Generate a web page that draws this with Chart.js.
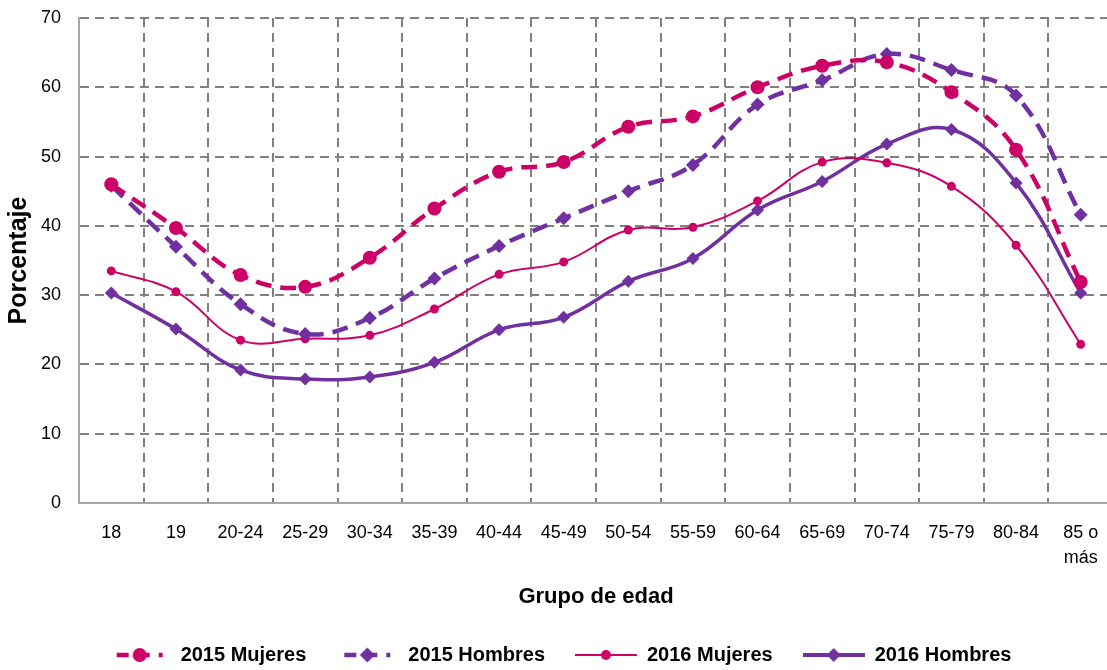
<!DOCTYPE html>
<html>
<head>
<meta charset="utf-8">
<script src="https://cdn.jsdelivr.net/npm/chart.js@4.4.1/dist/chart.umd.min.js"></script>
<style>
  html, body { margin: 0; padding: 0; background: #fff; overflow: hidden; }
  #wrap { width: 1107px; height: 670px; overflow: hidden; }
</style>
</head>
<body>
<div id="wrap"><canvas id="chart" width="1120" height="670"></canvas></div>
<script>
const grupos = ["18", "19", "20-24", "25-29", "30-34", "35-39", "40-44", "45-49",
  "50-54", "55-59", "60-64", "65-69", "70-74", "75-79", "80-84", ["85 o", "más"]];
const mujeres2015 = [46.0, 39.7, 32.9, 31.2, 35.4, 42.5, 47.8, 49.2, 54.3, 55.8, 60.0, 63.1, 63.6, 59.3, 51.0, 31.9];
const hombres2015 = [45.8, 37.0, 28.7, 24.4, 26.7, 32.4, 37.1, 41.1, 45.0, 48.8, 57.5, 61.0, 64.8, 62.5, 58.8, 41.6];
const mujeres2016 = [33.5, 30.5, 23.5, 23.7, 24.2, 28.0, 33.0, 34.8, 39.4, 39.8, 43.6, 49.2, 49.1, 45.7, 37.2, 22.9];
const hombres2016 = [30.3, 25.1, 19.2, 17.9, 18.2, 20.3, 25.0, 26.8, 32.0, 35.3, 42.3, 46.4, 51.8, 53.9, 46.2, 30.3];
const yMin = 0, yMax = 70, yStep = 10;

const MAGENTA = "#cc0066";
const PURPLE = "#7030a0";
const GRID = "#808080";

// little line+marker pictures for the legend
function legendMark(color, dash, lineW, shape, r) {
  const c = document.createElement("canvas");
  c.width = 62; c.height = 20;
  const g = c.getContext("2d");
  g.strokeStyle = color; g.fillStyle = color; g.lineWidth = lineW;
  g.setLineDash(dash);
  g.beginPath(); g.moveTo(dash.length ? 8 : 0, 10); g.lineTo(dash.length ? 54 : 62, 10); g.stroke();
  g.setLineDash([]);
  g.beginPath();
  if (shape === "circle") {
    g.arc(31, 10, r, 0, Math.PI * 2);
  } else {
    g.moveTo(31, 10 - r); g.lineTo(31 + r, 10); g.lineTo(31, 10 + r); g.lineTo(31 - r, 10); g.closePath();
  }
  g.fill();
  return c;
}
const marks = [
  legendMark(MAGENTA, [12, 9], 4.5, "circle", 7),
  legendMark(PURPLE, [12, 9], 4.5, "diamond", 7.5),
  legendMark(MAGENTA, [], 2, "circle", 5),
  legendMark(PURPLE, [], 4, "diamond", 7)
];

new Chart(document.getElementById("chart"), {
  type: "line",
  data: {
    labels: grupos,
    datasets: [
      {
        label: "2015 Mujeres", data: mujeres2015,
        borderColor: MAGENTA, backgroundColor: MAGENTA,
        borderWidth: 4.5, borderDash: [16, 9],
        pointStyle: "circle", pointRadius: 7, pointBorderWidth: 0,
        tension: 0.4
      },
      {
        label: "2015 Hombres", data: hombres2015,
        borderColor: PURPLE, backgroundColor: PURPLE,
        borderWidth: 4.5, borderDash: [16, 9],
        pointStyle: "rectRot", pointRadius: 7, pointBorderWidth: 0,
        tension: 0.4
      },
      {
        label: "2016 Mujeres", data: mujeres2016,
        borderColor: MAGENTA, backgroundColor: MAGENTA,
        borderWidth: 2,
        pointStyle: "circle", pointRadius: 4.5, pointBorderWidth: 0,
        tension: 0.4
      },
      {
        label: "2016 Hombres", data: hombres2016,
        borderColor: PURPLE, backgroundColor: PURPLE,
        borderWidth: 3.5,
        pointStyle: "rectRot", pointRadius: 6.5, pointBorderWidth: 0,
        tension: 0.4
      }
    ]
  },
  options: {
    responsive: false,
    animation: false,
    devicePixelRatio: 1,
    layout: { padding: { top: 18, right: 0, bottom: -5, left: 0 } },
    plugins: {
      tooltip: { enabled: false },
      legend: {
        position: "bottom",
        labels: {
          usePointStyle: true,
          pointStyleWidth: 62,
          padding: 30,
          color: "#000",
          font: { family: "'Liberation Sans', Arial", size: 20, weight: "bold" },
          generateLabels(chart) {
            const items = Chart.defaults.plugins.legend.labels.generateLabels(chart);
            items.forEach((it, i) => { it.pointStyle = marks[i]; });
            return items;
          }
        }
      }
    },
    scales: {
      x: {
        offset: true,
        grid: { offset: true, color: GRID, lineWidth: 2, drawTicks: false },
        border: { display: true, color: "#a6a6a6", width: 2, dash: [9, 6] },
        ticks: {
          color: "#000", padding: 17, maxRotation: 0, autoSkip: false,
          font: { family: "'Liberation Sans', Arial", size: 18, lineHeight: 1.4 }
        },
        title: {
          display: true, text: "Grupo de edad", color: "#000",
          font: { family: "'Liberation Sans', Arial", size: 22, weight: "bold" },
          padding: { top: 0, bottom: 5 }
        },
        afterFit(scale) { scale.height = 112; }
      },
      y: {
        min: yMin, max: yMax,
        grid: { color: GRID, lineWidth: 2, drawTicks: false },
        border: { display: true, color: "#a6a6a6", width: 2, dash: [9, 6] },
        ticks: {
          stepSize: yStep, color: "#000", padding: 18,
          font: { family: "'Liberation Sans', Arial", size: 18 }
        },
        title: {
          display: true, text: "Porcentaje", color: "#000",
          font: { family: "'Liberation Sans', Arial", size: 25, weight: "bold" },
          padding: { top: 4, bottom: 0 }
        },
        afterFit(scale) {
          scale.width = 79;
          scale.paddingTop = 0;
          scale.paddingBottom = 0;
        }
      }
    }
  }
});
</script>
</body>
</html>
